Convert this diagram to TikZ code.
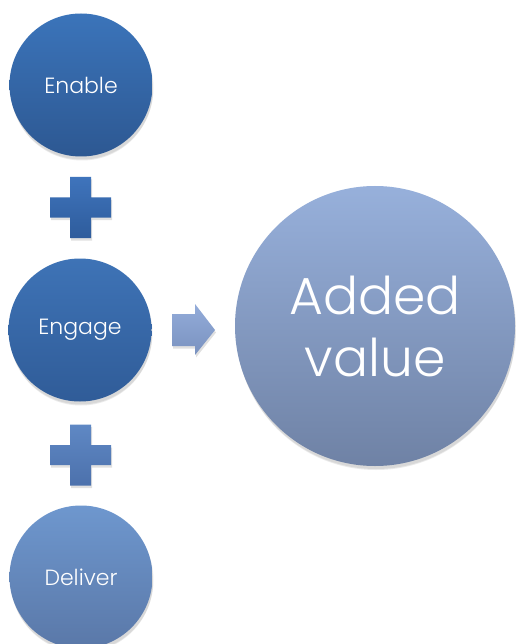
\documentclass[tikz,border=0pt]{standalone}
\usepackage{fontspec}
\setmainfont{Poppins}[UprightFont=* Light]
\definecolor{enA}{HTML}{3B74BA}
\definecolor{enB}{HTML}{2D5892}
\definecolor{egA}{HTML}{3E73B6}
\definecolor{egB}{HTML}{305C98}
\definecolor{dlA}{HTML}{6E97CE}
\definecolor{dlB}{HTML}{5A78A8}
\definecolor{avA}{HTML}{97B0DB}
\definecolor{avB}{HTML}{6F82A5}
\definecolor{plA}{HTML}{3F74BC}
\definecolor{plB}{HTML}{2E5C9C}
\definecolor{pl2A}{HTML}{5F88C4}
\definecolor{pl2B}{HTML}{4C71AC}
\definecolor{arA}{HTML}{93ACD9}
\definecolor{arB}{HTML}{7A92C0}
\tikzset{
  ball/.style={circle, inner sep=0pt, text=white, align=center},
  smallball/.style={ball, minimum size=143pt, font=\fontsize{22}{26}\selectfont},
  shadowcirc/.style={fill=black, opacity=0.08}
}
\begin{document}
\begin{tikzpicture}[x=1pt,y=-1pt]
\useasboundingbox (0,0) rectangle (515,644);
\fill[white] (0,0) rectangle (515,644);
% soft shadows
\foreach \cx/\cy/\r in {81/85/71.5, 80/330/71.5, 81/577/71.5, 375/326/140}{
  \fill[shadowcirc] (\cx+1,\cy+3) circle[radius=\r];
  \fill[shadowcirc] (\cx+1,\cy+4.5) circle[radius=\r-0.5];
}
\node[smallball, top color=enA, bottom color=enB] (enable) at (81,85) {Enable};
\node[smallball, top color=egA, bottom color=egB] (engage) at (80,330) {Engage};
\node[smallball, top color=dlA, bottom color=dlB] (deliver) at (81,577) {Deliver};
\node[ball, minimum size=280pt, top color=avA, bottom color=avB,
  font=\fontsize{52}{62}\selectfont] (added) at (375,326) {Added\\value};
% plus signs
\coordinate (p1) at (80.5,207.5);
\coordinate (p2) at (80.5,455);
\foreach \p/\ca/\cb in {p1/plA/plB, p2/pl2A/pl2B}{
  \fill[black, opacity=0.12]
    ([shift={(-9.5,-28)}]\p) -- ++(21,0) -- ++(0,20.5) -- ++(20,0) -- ++(0,20) -- ++(-20,0)
    -- ++(0,20.5) -- ++(-21,0) -- ++(0,-20.5) -- ++(-20,0) -- ++(0,-20) -- ++(20,0) -- cycle;
  \shade[top color=\ca, bottom color=\cb]
    ([shift={(-10.5,-30.5)}]\p) -- ++(21,0) -- ++(0,20.5) -- ++(20,0) -- ++(0,20) -- ++(-20,0)
    -- ++(0,20.5) -- ++(-21,0) -- ++(0,-20.5) -- ++(-20,0) -- ++(0,-20) -- ++(20,0) -- cycle;
}
% arrow
\coordinate (ar) at (172,330);
\fill[black, opacity=0.12]
  ([shift={(1,-13.5)}]ar) -- ++(23,0) -- ++(0,-10) -- ++(20,26) -- ++(-20,25) -- ++(0,-9)
  -- ++(-23,0) -- cycle;
\shade[top color=arA, bottom color=arB]
  ([shift={(0,-16)}]ar) -- ++(23,0) -- ++(0,-10) -- ++(20,26) -- ++(-20,25) -- ++(0,-9)
  -- ++(-23,0) -- cycle;
\end{tikzpicture}
\end{document}
